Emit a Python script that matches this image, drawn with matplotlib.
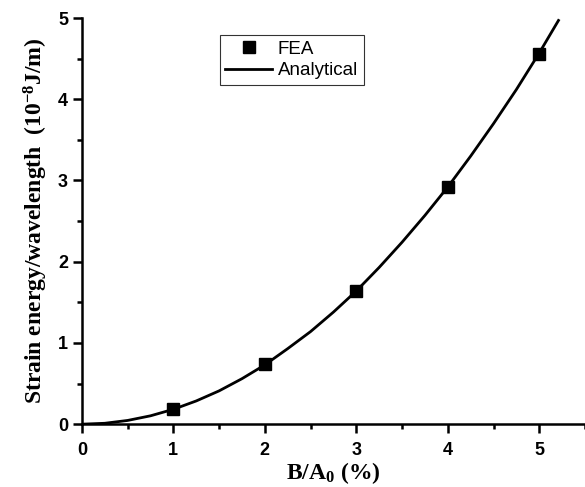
import matplotlib
matplotlib.use("Agg")
import matplotlib.pyplot as plt
from matplotlib.ticker import MultipleLocator

# FEA results
fea_x = [1, 2, 3, 4, 5]
fea_y = [0.185, 0.74, 1.64, 2.92, 4.56]

# analytical curve, sampled from the figure
ana_x = [0, 0.25, 0.5, 0.75, 1.0, 1.25, 1.5, 1.75, 2.0, 2.25, 2.5, 2.75,
         3.0, 3.25, 3.5, 3.75, 4.0, 4.25, 4.5, 4.75, 5.0, 5.21]
ana_y = [0, 0.011, 0.046, 0.103, 0.183, 0.286, 0.41, 0.56, 0.73, 0.93,
         1.14, 1.38, 1.64, 1.93, 2.24, 2.57, 2.92, 3.30, 3.70, 4.12, 4.57, 4.97]

plt.rcParams['mathtext.fontset'] = 'custom'
plt.rcParams['mathtext.rm'] = 'Liberation Serif:bold'
plt.rcParams['mathtext.default'] = 'rm'

fig = plt.figure(figsize=(5.85, 4.87), dpi=100)
ax = fig.add_axes([0.140, 0.129, 0.86, 0.834])

ax.plot(ana_x, ana_y, color='black', lw=2.0, label='Analytical', zorder=2,
        solid_joinstyle='round')
ax.plot(fea_x, fea_y, 's', color='black', ms=8.5, label='FEA', zorder=3)

ax.set_xlim(0, 5.5)
ax.set_ylim(0, 5)
ax.xaxis.set_major_locator(MultipleLocator(1))
ax.xaxis.set_minor_locator(MultipleLocator(0.5))
ax.yaxis.set_major_locator(MultipleLocator(1))
ax.yaxis.set_minor_locator(MultipleLocator(0.5))

for s in ['top', 'right']:
    ax.spines[s].set_visible(False)
for s in ['left', 'bottom']:
    ax.spines[s].set_linewidth(1.8)

ax.tick_params(which='major', direction='out', length=6.5, width=1.8)
ax.tick_params(which='minor', direction='out', length=3.5, width=1.8)
ax.tick_params(axis='x', which='major', pad=6)
for lab in ax.get_xticklabels() + ax.get_yticklabels():
    lab.set_fontfamily('Liberation Sans')
    lab.set_fontweight('bold')
    lab.set_fontsize(13)

ax.set_xlabel('B/A$_0$ (%)', fontfamily='Liberation Serif', fontweight='bold',
              fontsize=17, labelpad=1)
ax.set_ylabel('Strain energy/wavelength  (10$^{-8}$J/m)', fontfamily='Liberation Serif',
              fontweight='bold', fontsize=17, labelpad=6)

handles, labels = ax.get_legend_handles_labels()
leg = ax.legend(handles[::-1], labels[::-1], loc='upper left',
                bbox_to_anchor=(0.274, 0.958), frameon=True, fancybox=False,
                edgecolor='black', prop={'family': 'Liberation Sans', 'size': 13.5},
                handlelength=2.5, handletextpad=0.3, borderpad=0.3,
                labelspacing=0.22, borderaxespad=0)
leg.get_frame().set_linewidth(0.8)

fig.savefig('out.png', dpi=100)
